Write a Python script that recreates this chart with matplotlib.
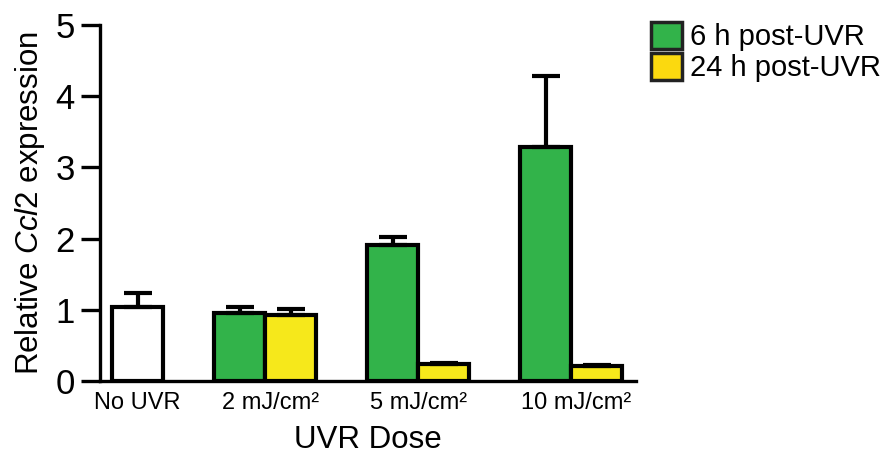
import matplotlib
matplotlib.use("Agg")
import matplotlib.pyplot as plt
from matplotlib.patches import Patch

plt.rcParams['font.family'] = ['Liberation Sans', 'DejaVu Sans']
plt.rcParams['mathtext.fontset'] = 'custom'
plt.rcParams['mathtext.it'] = 'Liberation Sans:italic'
plt.rcParams['mathtext.rm'] = 'Liberation Sans'

categories = ["No UVR", "2 mJ/cm²", "5 mJ/cm²", "10 mJ/cm²"]
control_value = [1.04]
control_err = [0.20]
h6_values = [0.955, 1.91, 3.29]
h6_err = [0.085, 0.11, 0.99]
h24_values = [0.93, 0.24, 0.21]
h24_err = [0.08, 0.015, 0.015]
legend_labels = ["6 h post-UVR", "24 h post-UVR"]

green = "#32b34a"
yellow = "#f6e81b"
yellow_leg = "#fbd90f"

fig = plt.figure(figsize=(8.82, 4.55), dpi=100)
ax = fig.add_axes([100/882, 1-381/455, 536/882, 356/455])

lw = 3.0
err_kw = dict(elinewidth=3.0, capsize=10, capthick=3.0, ecolor='black')

x_ctrl = [0]
x6 = [2, 5, 8]
x24 = [3, 6, 9]
ax.bar(x_ctrl, control_value, width=1.0, color='white', edgecolor='black', linewidth=lw,
       yerr=[[0]*len(control_err), control_err], error_kw=err_kw, zorder=3)
ax.bar(x6, h6_values, width=1.0, color=green, edgecolor='black', linewidth=lw,
       yerr=[[0]*len(h6_err), h6_err], error_kw=err_kw, zorder=3)
ax.bar(x24, h24_values, width=1.0, color=yellow, edgecolor='black', linewidth=lw,
       yerr=[[0]*len(h24_err), h24_err], error_kw=err_kw, zorder=3)

ax.set_xlim(-0.74, 9.77)
ax.set_ylim(0, 5)
ax.set_yticks([0, 1, 2, 3, 4, 5])
ax.set_xticks([0, 2.6, 5.5, 8.6])
ax.set_xticklabels(categories, fontsize=17)
ax.tick_params(axis='x', length=0, pad=8)
ax.tick_params(axis='y', length=14, width=2.4, labelsize=25, pad=4)

for s in ['top', 'right']:
    ax.spines[s].set_visible(False)
for s in ['left', 'bottom']:
    ax.spines[s].set_linewidth(2.4)

ax.set_ylabel("Relative $\\mathit{Ccl2}$ expression", fontsize=22.5, labelpad=6)
ax.set_xlabel("UVR Dose", fontsize=22.5, labelpad=8)

handles = [Patch(facecolor=green, edgecolor='#222222', linewidth=2.5),
           Patch(facecolor=yellow_leg, edgecolor='#222222', linewidth=2.5)]
fig.legend(handles, legend_labels, loc='upper left', bbox_to_anchor=(651/882, 1-22/455),
           frameon=False, fontsize=21, handlelength=1.05, handleheight=1.05,
           handletextpad=0.3, labelspacing=0.05, borderaxespad=0, borderpad=0)

fig.savefig("out.png", dpi=100)
